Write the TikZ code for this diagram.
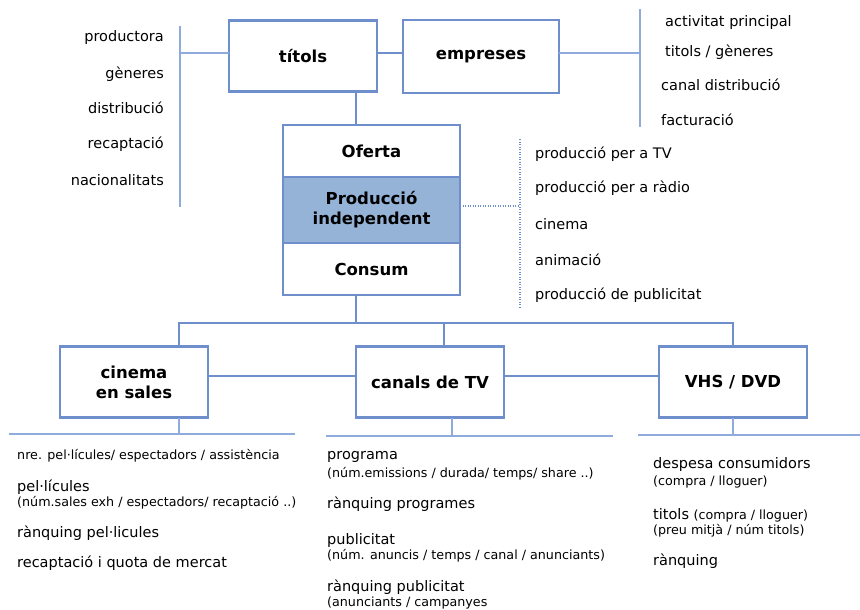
\documentclass[tikz,border=0pt]{standalone}
\usepackage{fontspec}
\setmainfont{DejaVu Sans}
\usepackage{xcolor}
\usetikzlibrary{positioning}

\definecolor{boxblue}{RGB}{111,143,204}
\definecolor{lightblue}{RGB}{143,171,219}
\definecolor{prodfill}{RGB}{149,179,215}

\newcommand{\smalltext}{\fontsize{12.7}{15}\selectfont}

\begin{document}
\begin{tikzpicture}[
   x=1pt, y=-1pt,
   box/.style = {draw=boxblue, line width=2.5pt, rectangle, outer sep=0pt, minimum width=148pt, minimum height=71pt, align=center, font=\fontsize{16.5}{20}\selectfont\bfseries},
   stackbox/.style = {box, minimum width=177pt},
   line/.style = {draw=boxblue, line width=2.2pt},
   thinline/.style = {draw=lightblue, line width=1.5pt},
   dotline/.style = {draw=boxblue, line width=1.2pt, dash pattern=on 1pt off 1.5pt},
   attr/.style = {inner sep=0pt, font=\fontsize{14.5}{17}\selectfont},
   small/.style = {inner sep=0pt, font=\smalltext}
   ]
  \useasboundingbox (0,0) rectangle (860,610);

  % Top boxes
  \node[box] (titols) at (303,56) {títols};
  \node[box, minimum width=156pt, minimum height=73pt] (empreses) at (481,56.5) {empreses};

  % Central stack
  \node[stackbox, minimum height=52pt] (oferta) at (371.5,151) {Oferta};
  \node[stackbox, fill=prodfill, minimum height=66pt, below=0pt of oferta] (prod) {Producció\\independent};
  \node[stackbox, minimum height=52pt, below=0pt of prod] (consum) {Consum};

  % Bottom boxes
  \node[box] (cinema) at (134,382) {cinema\\en sales};
  \node[box] (canals) at (430,382) {canals de TV};
  \node[box] (vhs) at (733,382) {VHS / DVD};

  % Helper coordinates
  \coordinate (stem) at (356,108);
  \coordinate (busL) at (179,323);
  \coordinate (busM) at (444,323);
  \coordinate (busR) at (733,323);
  \coordinate (tw) at ([yshift=3pt]titols.west);
  \coordinate (te) at ([yshift=3pt]titols.east);
  \coordinate (ew) at ([yshift=3.5pt]empreses.west);
  \coordinate (ee) at ([yshift=3.5pt]empreses.east);
  \coordinate (ltop) at (180,26);
  \coordinate (lbot) at (180,207);
  \coordinate (rtop) at (640,9);
  \coordinate (rbot) at (640,127);
  \coordinate (pe) at ([yshift=4pt]prod.east);
  \coordinate (dtop) at (520,139);
  \coordinate (dbot) at (520,309);
  \coordinate (cinL) at (9,434);
  \coordinate (cinR) at (295,434);
  \coordinate (canL) at (326,436);
  \coordinate (canR) at (613,436);
  \coordinate (canS) at (452,436);
  \coordinate (vhsL) at (638,435);
  \coordinate (vhsR) at (860,435);

  % Connectors
  \draw[line] (te) -- (ew);
  \draw[line] (stem |- titols.south) -- (stem |- oferta.north);
  \draw[line] (stem |- consum.south) -- (stem |- busL);
  \draw[line] (busL |- cinema.north) -- (busL) -- (busR) -- (vhs.north);
  \draw[line] (busM) -- (busM |- canals.north);
  \draw[line] ([yshift=6pt]cinema.east) -- ([yshift=6pt]canals.west);
  \draw[line] ([yshift=6pt]canals.east) -- ([yshift=6pt]vhs.west);

  % Side brackets
  \draw[thinline] (tw) -- (tw -| ltop);
  \draw[thinline] (ltop) -- (lbot);
  \draw[thinline] (ee) -- (ee -| rtop);
  \draw[thinline] (rtop) -- (rbot);
  \draw[dotline] (pe) -- (pe -| dtop);
  \draw[dotline] (dtop) -- (dbot);

  % Lines under the bottom boxes
  \draw[thinline] (cinL) -- (cinR);
  \draw[thinline] (busL |- cinema.south) -- (busL |- cinL);
  \draw[thinline] (canL) -- (canR);
  \draw[thinline] (canS |- canals.south) -- (canS);
  \draw[thinline] (vhsL) -- (vhsR);
  \draw[thinline] (vhs.south) -- (vhs.south |- vhsL);

  % titols attributes
  \node[attr, anchor=east] (tit1) at (164,38) {productora};
  \node[attr, anchor=east] (tit2) at (164,74) {gèneres};
  \node[attr, anchor=east] (tit3) at (164,108) {distribució};
  \node[attr, anchor=east] (tit4) at (164,144) {recaptació};
  \node[attr, anchor=east] (tit5) at (164,180) {nacionalitats};

  % empreses attributes
  \node[attr, anchor=west] (emp1) at (665,23) {activitat principal};
  \node[attr, anchor=west] (emp2) at (665,52) {titols / gèneres};
  \node[attr, anchor=west] (emp3) at (661,85) {canal distribució};
  \node[attr, anchor=west] (emp4) at (661,120) {facturació};

  % production types
  \node[attr, anchor=west] (prd1) at (535,154) {producció per a TV};
  \node[attr, anchor=west] (prd2) at (535,188) {producció per a ràdio};
  \node[attr, anchor=west] (prd3) at (535,224) {cinema};
  \node[attr, anchor=west] (prd4) at (535,260) {animació};
  \node[attr, anchor=west] (prd5) at (535,295) {producció de publicitat};

  % cinema en sales data
  \node[small, anchor=west] (cin1) at (17,456) {nre. pel·lícules/ espectadors / assistència};
  \node[attr, anchor=west] (cin2) at (17,487) {pel·lícules};
  \node[small, anchor=west] (cin3) at (17,503) {(núm.sales exh / espectadors/ recaptació ..)};
  \node[attr, anchor=west] (cin4) at (17,533) {rànquing pel·licules};
  \node[attr, anchor=west] (cin5) at (17,563) {recaptació i quota de mercat};

  % canals de TV data
  \node[attr, anchor=west] (can1) at (327,457) {programa};
  \node[small, anchor=west] (can2) at (327,474) {(núm.emissions / durada/ temps/ share ..)};
  \node[attr, anchor=west] (can3) at (327,504) {rànquing programes};
  \node[attr, anchor=west] (can4) at (327,540) {publicitat};
  \node[small, anchor=west] (can5) at (327,556) {(núm. anuncis / temps / canal / anunciants)};
  \node[attr, anchor=west] (can6) at (327,587) {rànquing publicitat};
  \node[small, anchor=west] (can7) at (327,603) {(anunciants / campanyes};

  % VHS / DVD data
  \node[attr, anchor=west] (vhs1) at (653,464) {despesa consumidors};
  \node[small, anchor=west] (vhs2) at (653,482) {(compra / lloguer)};
  \node[attr, anchor=west] (vhs3) at (653,515) {titols {\smalltext(compra / lloguer)}};
  \node[small, anchor=west] (vhs4) at (653,531) {(preu mitjà / núm titols)};
  \node[attr, anchor=west] (vhs5) at (653,561) {rànquing};
\end{tikzpicture}
\end{document}
